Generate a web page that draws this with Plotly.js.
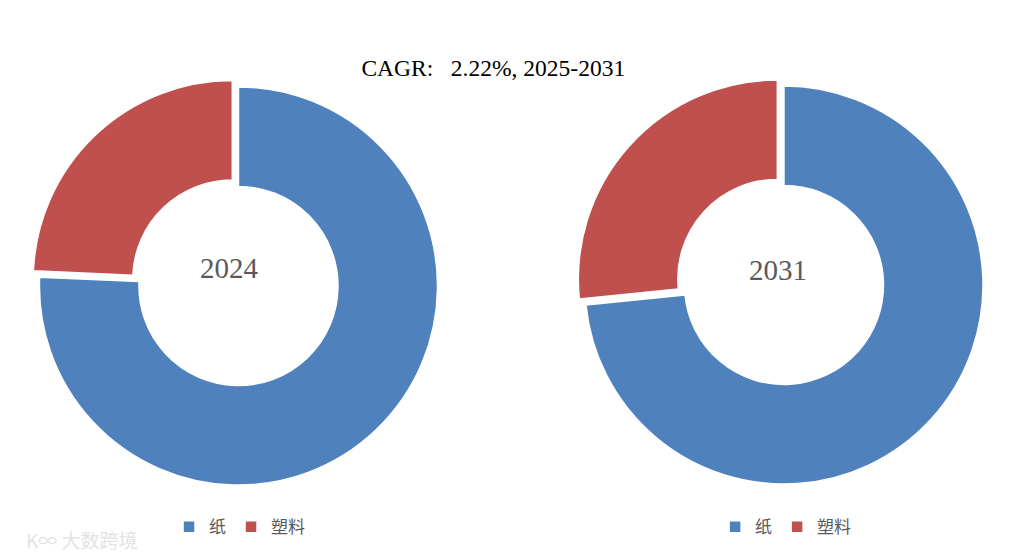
<!DOCTYPE html>
<html>
<head>
<meta charset="utf-8">
<script src="https://cdn.plot.ly/plotly-3.0.1.min.js"></script>
<style>html,body{margin:0;padding:0;background:#fff;}#chart{width:1015px;height:559px;}</style>
</head>
<body>
<div id="chart"></div>
<script>
const categories = ['纸', '塑料'];
// second pie uses invisibly-distinct labels so it gets its own legend entries
const categories2 = categories.map(c => c + '\u200b');
const share2024 = [75.7, 24.3];
const share2031 = [73.4, 26.6];
const years = ['2024', '2031'];
const titleText = 'CAGR:&nbsp;&nbsp;&nbsp;2.22%, 2025-2031';
const colors = ['#4F81BD', '#C0504D'];
const pulls = [0, 0.045];

const serif = 'Liberation Serif, Times New Roman, serif';
const cjk = 'Noto Sans CJK SC, sans-serif';

function donut(labels, values, domain, legendId) {
  return {
    type: 'pie',
    labels: labels,
    values: values,
    hole: 0.5,
    sort: false,
    direction: 'clockwise',
    rotation: 0,
    pull: pulls,
    textinfo: 'none',
    hoverinfo: 'label+percent',
    marker: {colors: colors, line: {color: '#ffffff', width: 1.5}},
    domain: domain,
    legend: legendId,
    showlegend: true
  };
}

const data = [
  donut(categories, share2024, {x: [0.0300, 0.4399], y: [0.1163, 0.8605]}, 'legend'),
  donut(categories2, share2031, {x: [0.5675, 0.9773], y: [0.1180, 0.8623]}, 'legend2')
];

const legendBase = {
  orientation: 'h',
  xanchor: 'center',
  yanchor: 'middle',
  y: 0.057,
  font: {family: cjk, size: 17, color: '#595959'},
  itemwidth: 30,
  bgcolor: 'rgba(0,0,0,0)'
};

const layout = {
  width: 1015,
  height: 559,
  margin: {l: 0, r: 0, t: 0, b: 0, autoexpand: false},
  paper_bgcolor: '#ffffff',
  title: {
    text: titleText,
    x: 0.486, xanchor: 'center',
    y: 0.878, yanchor: 'middle',
    font: {family: serif, size: 23.5, color: '#000000'}
  },
  legend: Object.assign({}, legendBase, {x: 0.236}),
  legend2: Object.assign({}, legendBase, {x: 0.774}),
  annotations: [
    {text: years[0], x: 0.2266, y: 0.52, xref: 'paper', yref: 'paper', xanchor: 'center', yanchor: 'middle',
     showarrow: false, font: {family: serif, size: 29, color: '#595959'}},
    {text: years[1], x: 0.7665, y: 0.517, xref: 'paper', yref: 'paper', xanchor: 'center', yanchor: 'middle',
     showarrow: false, font: {family: serif, size: 29, color: '#595959'}},
    {text: 'K∞ 大数跨境', x: 0.024, y: 0.034, xref: 'paper', yref: 'paper', xanchor: 'left', yanchor: 'middle',
     showarrow: false, font: {family: cjk, size: 19, color: '#e3e3e3'}}
  ]
};

Plotly.newPlot('chart', data, layout, {displayModeBar: false, staticPlot: true});
</script>
</body>
</html>
